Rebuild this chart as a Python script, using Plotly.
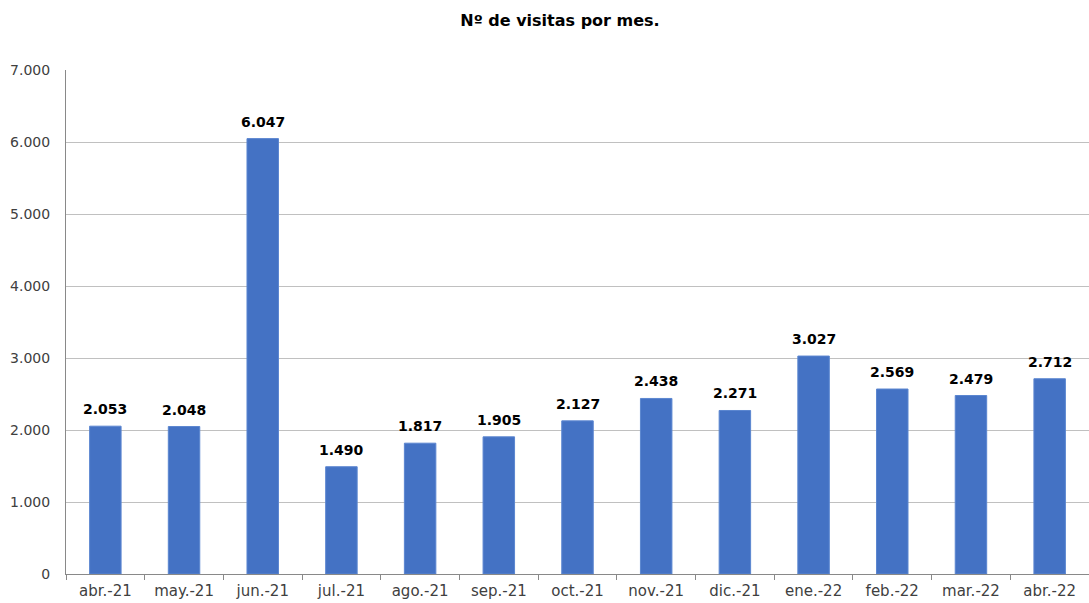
import plotly.graph_objects as go

# Monthly visit counts
months = ["abr.-21", "may.-21", "jun.-21", "jul.-21", "ago.-21", "sep.-21", "oct.-21",
          "nov.-21", "dic.-21", "ene.-22", "feb.-22", "mar.-22", "abr.-22"]
visits = [2053, 2048, 6047, 1490, 1817, 1905, 2127, 2438, 2271, 3027, 2569, 2479, 2712]
y_ticks = [0, 1000, 2000, 3000, 4000, 5000, 6000, 7000]

FONT = "DejaVu Sans"
BAR = "#4472C4"
AXIS = "#898989"
GRID = "#c0c0c0"
TEXT = "#404040"


def fmt(v):
    return f"{v:,}".replace(",", ".")


fig = go.Figure(
    go.Bar(
        x=months,
        y=visits,
        width=0.4,
        marker=dict(color=BAR, line=dict(color="#5b86d0", width=1)),
        hoverinfo="x+y",
    )
)

# value labels above each bar
for m, v in zip(months, visits):
    fig.add_annotation(
        x=m, y=v, text=f"<b>{fmt(v)}</b>", showarrow=False,
        yanchor="middle", yshift=17,
        font=dict(family=FONT, size=14, color="#000000"),
    )

fig.update_layout(
    width=1089,
    height=603,
    margin=dict(l=66, r=0, t=70, b=29),
    paper_bgcolor="white",
    plot_bgcolor="white",
    separators=",.",
    showlegend=False,
    title=dict(
        text="<b>Nº de visitas por mes.</b>",
        x=560 / 1089,
        xanchor="center",
        y=1 - 20 / 603,
        yanchor="middle",
        font=dict(family=FONT, size=16, color="#000000"),
    ),
)

fig.update_xaxes(
    type="category",
    tickson="boundaries",
    ticks="outside",
    ticklen=5,
    tickcolor=AXIS,
    showline=True,
    linecolor=AXIS,
    linewidth=1,
    showgrid=False,
    automargin=False,
    ticklabelstandoff=3,
    tickfont=dict(family=FONT, size=15, color=TEXT),
)

fig.update_yaxes(
    range=[0, 7000],
    tickvals=y_ticks,
    tickformat=",.0f",
    showline=True,
    linecolor=AXIS,
    linewidth=1,
    showgrid=True,
    gridcolor=GRID,
    gridwidth=1,
    zeroline=False,
    ticks="",
    automargin=False,
    ticklabelstandoff=12,
    tickfont=dict(family=FONT, size=14, color=TEXT),
)

fig.write_html("out.html")
